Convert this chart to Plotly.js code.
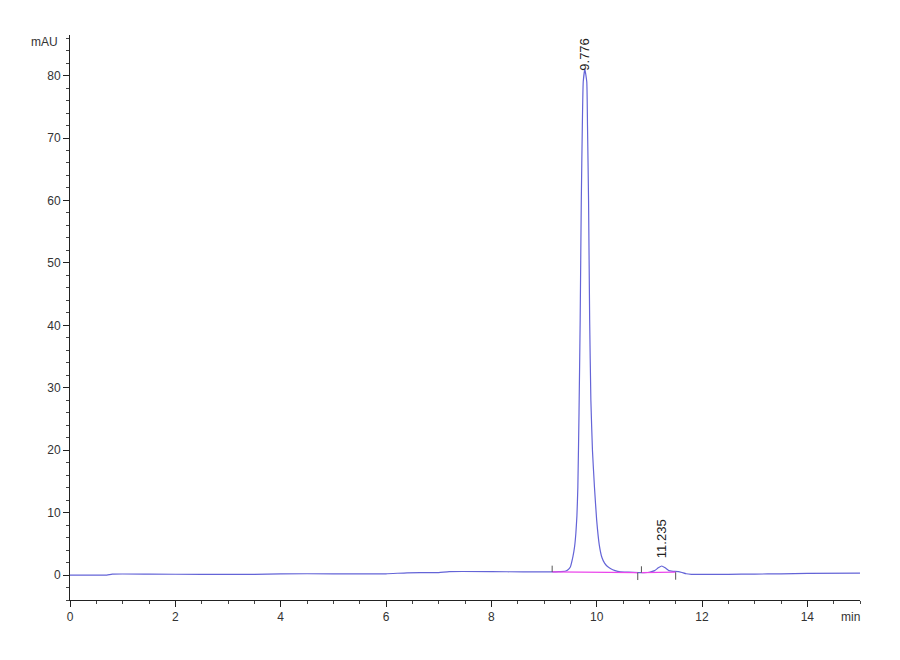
<!DOCTYPE html>
<html>
<head>
<meta charset="utf-8">
<script src="https://cdn.plot.ly/plotly-3.0.1.min.js"></script>
<style>
  html, body { margin: 0; padding: 0; background: #fff; }
  #chart { width: 900px; height: 660px; }
</style>
</head>
<body>
<div id="chart"></div>
<script>
// retention time (min) and detector signal (mAU)
const time_min = [0, 0.3, 0.7, 0.8, 1.5, 2.5, 3.5, 4.0, 5.0, 6.0, 6.4, 7.0, 7.2, 8.0, 8.6, 9.0,
  9.2, 9.3, 9.4, 9.45, 9.5, 9.55, 9.58, 9.605, 9.625, 9.643, 9.665, 9.687, 9.708, 9.728, 9.745,
  9.776, 9.812, 9.826, 9.846, 9.867, 9.89, 9.92, 9.958, 10.0, 10.05, 10.1, 10.15, 10.2, 10.26,
  10.35, 10.45, 10.6, 10.8, 10.9, 11.0, 11.1, 11.17, 11.235, 11.3, 11.37, 11.45, 11.55, 11.62,
  11.7, 11.8, 12.5, 13.0, 13.5, 14.0, 15.0]
const signal_mau = [0, 0, 0, 0.15, 0.15, 0.1, 0.1, 0.2, 0.2, 0.2, 0.35, 0.4, 0.55, 0.55, 0.5, 0.5,
  0.5, 0.55, 0.6, 0.8, 1.3, 3.0, 4.5, 6.7, 9.5, 14.1, 26, 40.9, 60, 72, 79,
  81, 79, 72, 60, 40.9, 28, 20, 14.1, 8.8, 4.8, 2.8, 1.9, 1.4, 1.05,
  0.7, 0.5, 0.45, 0.4, 0.4, 0.45, 0.7, 1.15, 1.45, 1.15, 0.7, 0.6, 0.55, 0.4,
  0.2, 0.12, 0.12, 0.15, 0.2, 0.25, 0.3]

// integrated peaks
const peak_rt = [9.776, 11.235]
const peak_height = [81, 1.45]
const peak_labels = ['9.776', '11.235']
const base_start_t = [9.155, 10.85]
const base_start_v = [0.5, 0.4]
const base_end_t = [10.78, 11.5]
const base_end_v = [0.4, 0.45]

const font_family = 'Liberation Sans Narrow, Liberation Sans, Arial, sans-serif'
const trace_color = 'rgb(100,100,215)'
const base_color = 'rgb(235,70,235)'

let data = [
  {
    x: time_min,
    y: signal_mau,
    mode: 'lines',
    line: { color: trace_color, width: 1.2, shape: 'spline', smoothing: 0.4 },
    hoverinfo: 'skip',
  },
]

// baselines of the integration, one segment per peak
for (let i = 0; i < base_start_t.length; i++) {
  data.push({
    x: [base_start_t[i], base_end_t[i]],
    y: [base_start_v[i], base_end_v[i]],
    mode: 'lines',
    line: { color: base_color, width: 1.2 },
    hoverinfo: 'skip',
  })
}

// integration event marks: start marks point up, end marks point down
const tick_len = 1.0
let tx = [], ty = []
for (let i = 0; i < base_start_t.length; i++) {
  tx.push(base_start_t[i], base_start_t[i], null)
  ty.push(base_start_v[i], base_start_v[i] + tick_len, null)
  tx.push(base_end_t[i], base_end_t[i], null)
  ty.push(base_end_v[i], base_end_v[i] - tick_len * 1.2, null)
}
data.push({
  x: tx, y: ty, mode: 'lines',
  line: { color: '#555', width: 1 },
  hoverinfo: 'skip',
})

let annotations = peak_rt.map((rt, i) => ({
  x: rt, y: peak_height[i], xref: 'x', yref: 'y',
  text: peak_labels[i], textangle: -90,
  showarrow: false, xanchor: 'center', yanchor: 'bottom', yshift: i === 0 ? -3 : 6,
  font: { family: 'Liberation Sans, Arial, sans-serif', size: 13, color: '#222' },
}))
annotations.push(
  { x: 0, y: 1, xref: 'paper', yref: 'paper', text: 'mAU', showarrow: false,
    xanchor: 'right', yanchor: 'middle', xshift: -10, yshift: -7,
    font: { family: font_family, size: 12, color: '#333' } },
  { x: 1, y: 0, xref: 'paper', yref: 'paper', text: 'min', showarrow: false,
    xanchor: 'right', yanchor: 'top', xshift: 2, yshift: -8,
    font: { family: font_family, size: 12, color: '#333' } }
)

const axis_common = {
  showgrid: false,
  zeroline: false,
  showline: true,
  linecolor: '#222',
  linewidth: 1,
  ticks: 'outside',
  ticklen: 6,
  tickcolor: '#222',
  tickfont: { family: font_family, size: 12, color: '#333' },
}

let layout = {
  width: 900,
  height: 660,
  margin: { l: 70, r: 40, t: 35, b: 60 },
  paper_bgcolor: '#ffffff',
  plot_bgcolor: '#ffffff',
  showlegend: false,
  xaxis: Object.assign({}, axis_common, {
    range: [0, 15],
    dtick: 2,
    tick0: 0,
    minor: { ticks: 'outside', ticklen: 3, tickcolor: '#444', dtick: 0.5 },
  }),
  yaxis: Object.assign({}, axis_common, {
    range: [-4, 86.5],
    dtick: 10,
    tick0: 0,
    minor: { ticks: 'outside', ticklen: 3, tickcolor: '#444', dtick: 2 },
  }),
  annotations: annotations,
}

Plotly.newPlot('chart', data, layout, { staticPlot: true })
</script>
</body>
</html>
